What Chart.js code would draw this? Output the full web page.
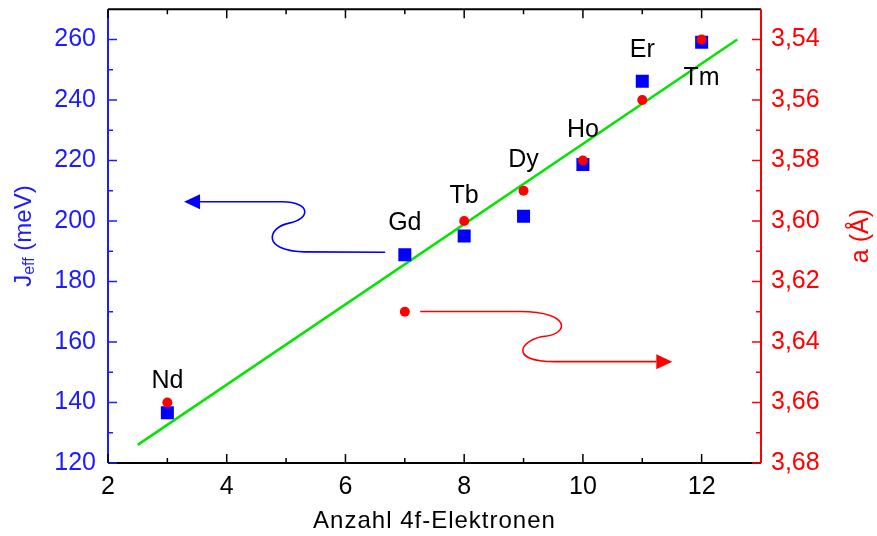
<!DOCTYPE html>
<html>
<head>
<meta charset="utf-8">
<script src="https://cdn.jsdelivr.net/npm/chart.js@4.4.0/dist/chart.umd.min.js"></script>
<style>
  html, body { margin: 0; padding: 0; background: #fff; }
  #wrap { width: 877px; height: 536px; }
</style>
</head>
<body>
<div id="wrap"><canvas id="chart"></canvas></div>
<script>
// Rare earth series: 4f electron count vs. exchange J_eff and lattice constant a
const elements = ["Nd", "Gd", "Tb", "Dy", "Ho", "Er", "Tm"];
const electrons = [3, 7, 8, 9, 10, 11, 12];
const jEff = [136.6, 188.8, 195.0, 201.6, 218.7, 246.2, 259.1];
const latticeA = [3.66, 3.63, 3.60, 3.59, 3.58, 3.56, 3.54];

// linear fit through J_eff
const fitX = [2.5, 12.6];
const fitJ = [126, 260];

const xTicks = [2, 4, 6, 8, 10, 12];
const jTicks = [120, 140, 160, 180, 200, 220, 240, 260];
const aTicks = [3.54, 3.56, 3.58, 3.60, 3.62, 3.64, 3.66, 3.68];

// where the element names sit (x, baseline in meV)
const labelJ = [144.7, 197.0, 206.0, 218.0, 227.9, 254.2, 245.1];

const FONT = '"Liberation Sans", Arial, sans-serif';
const BLUE = "#0000ff";
const BLUE_TXT = "#1c1cff";
const RED = "#ff0000";
const GREEN = "#00e600";

// curly arrows pointing to each axis, in data units
const blueArrow = {
  axis: "y", color: BLUE, tip: [3.281, 206.36],
  path: [
    ["M", 6.669, 189.67],
    ["L", 5.320, 189.77],
    ["C", 4.562, 190.10, 4.697, 197.98, 5.051, 199.29],
    ["C", 5.405, 200.61, 5.438, 206.20, 4.933, 206.36],
    ["L", 3.551, 206.36]
  ]
};
const redArrow = {
  axis: "y2", color: RED, tip: [11.506, 3.6465],
  path: [
    ["M", 7.259, 3.6299],
    ["L", 8.944, 3.6299],
    ["C", 9.821, 3.6300, 9.753, 3.6374, 9.366, 3.6381],
    ["C", 8.978, 3.6388, 8.692, 3.6465, 9.534, 3.6465],
    ["L", 11.236, 3.6465]
  ]
};

function fixedTicks(values) {
  return scale => { scale.ticks = values.map(v => ({ value: v })); };
}

const decorations = {
  id: "decorations",
  afterDraw(chart) {
    const { ctx, chartArea: a, scales } = chart;
    const x = scales.x, y = scales.y, y2 = scales.y2;
    ctx.save();

    // frame
    ctx.lineWidth = 2;
    ctx.strokeStyle = "#000";
    ctx.beginPath();
    ctx.moveTo(a.left, a.top); ctx.lineTo(a.right, a.top);
    ctx.moveTo(a.left, a.bottom); ctx.lineTo(a.right, a.bottom);
    ctx.stroke();
    ctx.strokeStyle = BLUE_TXT;
    ctx.beginPath(); ctx.moveTo(a.left, a.top); ctx.lineTo(a.left, a.bottom); ctx.stroke();
    ctx.strokeStyle = RED;
    ctx.beginPath(); ctx.moveTo(a.right, a.top); ctx.lineTo(a.right, a.bottom); ctx.stroke();

    // inward tick marks
    const major = 9, minor = 5;
    const xMin = [];
    for (let v = xTicks[0] + 1; v < x.max; v += 2) xMin.push(v);
    ctx.lineWidth = 1.5;
    ctx.strokeStyle = "#000";
    ctx.beginPath();
    xTicks.forEach(v => {
      const px = x.getPixelForValue(v);
      ctx.moveTo(px, a.bottom); ctx.lineTo(px, a.bottom - major);
      ctx.moveTo(px, a.top); ctx.lineTo(px, a.top + major);
    });
    xMin.forEach(v => {
      const px = x.getPixelForValue(v);
      ctx.moveTo(px, a.bottom); ctx.lineTo(px, a.bottom - minor);
      ctx.moveTo(px, a.top); ctx.lineTo(px, a.top + minor);
    });
    ctx.stroke();

    ctx.strokeStyle = BLUE_TXT;
    ctx.beginPath();
    jTicks.forEach((v, i) => {
      const py = y.getPixelForValue(v);
      ctx.moveTo(a.left, py); ctx.lineTo(a.left + major, py);
      if (i < jTicks.length - 1) {
        const pm = y.getPixelForValue(v + 10);
        ctx.moveTo(a.left, pm); ctx.lineTo(a.left + minor, pm);
      }
    });
    ctx.stroke();

    ctx.strokeStyle = RED;
    ctx.beginPath();
    aTicks.forEach((v, i) => {
      const py = y2.getPixelForValue(v);
      ctx.moveTo(a.right, py); ctx.lineTo(a.right - major, py);
      if (i < aTicks.length - 1) {
        const pm = y2.getPixelForValue(v + 0.01);
        ctx.moveTo(a.right, pm); ctx.lineTo(a.right - minor, pm);
      }
    });
    ctx.stroke();

    // element names
    ctx.fillStyle = "#000";
    ctx.font = "25px " + FONT;
    ctx.textAlign = "center";
    ctx.textBaseline = "alphabetic";
    elements.forEach((name, i) => {
      ctx.fillText(name, x.getPixelForValue(electrons[i]), y.getPixelForValue(labelJ[i]));
    });

    // arrows
    [blueArrow, redArrow].forEach(arr => {
      const ys = scales[arr.axis];
      const P = (vx, vy) => [x.getPixelForValue(vx), ys.getPixelForValue(vy)];
      ctx.strokeStyle = arr.color;
      ctx.fillStyle = arr.color;
      ctx.lineWidth = 1.6;
      ctx.beginPath();
      arr.path.forEach(seg => {
        if (seg[0] === "M") ctx.moveTo(...P(seg[1], seg[2]));
        else if (seg[0] === "L") ctx.lineTo(...P(seg[1], seg[2]));
        else ctx.bezierCurveTo(...P(seg[1], seg[2]), ...P(seg[3], seg[4]), ...P(seg[5], seg[6]));
      });
      ctx.stroke();
      const last = arr.path[arr.path.length - 1];
      const [bx, by] = P(last[1], last[2]);
      const [tx, ty] = P(arr.tip[0], arr.tip[1]);
      ctx.beginPath();
      ctx.moveTo(tx, ty);
      ctx.lineTo(bx, by - 7.5);
      ctx.lineTo(bx, by + 7.5);
      ctx.closePath();
      ctx.fill();
    });

    // axis titles
    ctx.fillStyle = "#000";
    ctx.font = "24px " + FONT;
    ctx.textAlign = "center";
    ctx.letterSpacing = "1px";
    ctx.fillText("Anzahl 4f-Elektronen", (a.left + a.right) / 2, 528);
    ctx.letterSpacing = "0px";

    const midY = (a.top + a.bottom) / 2;
    ctx.save();
    ctx.translate(24, midY);
    ctx.rotate(-Math.PI / 2);
    ctx.fillStyle = BLUE_TXT;
    ctx.textBaseline = "middle";
    ctx.textAlign = "left";
    const big = "24px " + FONT, small = "16px " + FONT;
    ctx.font = big;
    const wJ = ctx.measureText("J").width;
    const wRest = ctx.measureText(" (meV)").width;
    ctx.font = small;
    const wSub = ctx.measureText("eff").width;
    let cx = -(wJ + wSub + wRest) / 2;
    ctx.font = big; ctx.fillText("J", cx, 0); cx += wJ;
    ctx.font = small; ctx.fillText("eff", cx, 6); cx += wSub;
    ctx.font = big; ctx.fillText(" (meV)", cx, 0);
    ctx.restore();

    ctx.save();
    ctx.translate(861, midY);
    ctx.rotate(-Math.PI / 2);
    ctx.fillStyle = RED;
    ctx.textBaseline = "middle";
    ctx.textAlign = "center";
    ctx.font = "25px " + FONT;
    ctx.fillText("a (\u00C5)", 0, 0);
    ctx.restore();

    ctx.restore();
  }
};

new Chart(document.getElementById("chart"), {
  type: "scatter",
  data: {
    datasets: [
      {
        type: "line",
        data: fitX.map((v, i) => ({ x: v, y: fitJ[i] })),
        borderColor: GREEN,
        borderWidth: 2.5,
        pointRadius: 0,
        yAxisID: "y",
        order: 3
      },
      {
        data: electrons.map((v, i) => ({ x: v, y: jEff[i] })),
        pointStyle: "rect",
        pointRadius: 9.2,
        backgroundColor: BLUE,
        borderWidth: 0,
        yAxisID: "y",
        order: 2
      },
      {
        data: electrons.map((v, i) => ({ x: v, y: latticeA[i] })),
        pointStyle: "circle",
        pointRadius: 5,
        backgroundColor: RED,
        borderWidth: 0,
        yAxisID: "y2",
        order: 1
      }
    ]
  },
  options: {
    responsive: true,
    maintainAspectRatio: false,
    animation: false,
    layout: { padding: { top: 6, left: 0, right: 0, bottom: 0 } },
    plugins: { legend: { display: false }, tooltip: { enabled: false } },
    scales: {
      x: {
        type: "linear",
        position: "bottom",
        min: 2,
        max: 13,
        afterBuildTicks: fixedTicks(xTicks),
        afterFit: s => { s.height = 73; s.paddingLeft = 0; s.paddingRight = 0; },
        grid: { display: false, drawTicks: false },
        border: { display: false },
        ticks: { color: "#000", font: { family: FONT, size: 25 }, padding: 9, maxRotation: 0, autoSkip: false }
      },
      y: {
        type: "linear",
        position: "left",
        min: 120,
        max: 270,
        afterBuildTicks: fixedTicks(jTicks),
        afterFit: s => { s.width = 108; s.paddingTop = 0; s.paddingBottom = 0; },
        grid: { display: false, drawTicks: false },
        border: { display: false },
        ticks: { color: BLUE_TXT, font: { family: FONT, size: 25 }, padding: 12, autoSkip: false }
      },
      y2: {
        type: "linear",
        position: "right",
        min: 3.53,
        max: 3.68,
        reverse: true,
        afterBuildTicks: fixedTicks(aTicks),
        afterFit: s => { s.width = 116; s.paddingTop = 0; s.paddingBottom = 0; },
        grid: { display: false, drawTicks: false },
        border: { display: false },
        ticks: {
          color: RED,
          font: { family: FONT, size: 25 },
          padding: 10,
          autoSkip: false,
          callback: v => v.toFixed(2).replace(".", ",")
        }
      }
    }
  },
  plugins: [decorations]
});
</script>
</body>
</html>
